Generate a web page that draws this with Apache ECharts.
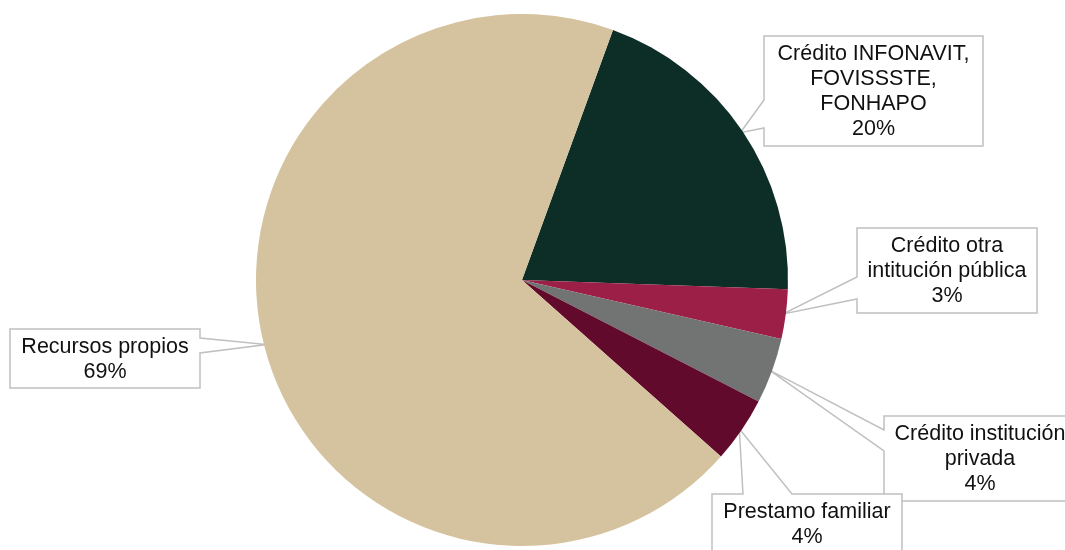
<!DOCTYPE html>
<html>
<head>
<meta charset="utf-8">
<script src="https://cdn.jsdelivr.net/npm/echarts@6/dist/echarts.min.js"></script>
<style>
  html, body { margin: 0; padding: 0; background: #ffffff; }
  #chart { width: 1065px; height: 550px; }
</style>
</head>
<body>
<div id="chart"></div>
<script>
// Fuente de financiamiento de la vivienda (porcentaje)
const categories = [
  'Crédito INFONAVIT,\nFOVISSSTE,\nFONHAPO',
  'Crédito otra\nintitución pública',
  'Crédito institución\nprivada',
  'Prestamo familiar',
  'Recursos propios'
];
const shares = [20, 3, 4, 4, 69];
const sliceColors = ['#0D2E27', '#9C1F47', '#727473', '#620A2C', '#D5C29E'];

// Callout boxes: [left, top, right, bottom], the side the pointer leaves from,
// and where the pointer's base meets that side.
const calloutBoxes = [
  { rect: [764, 36, 983, 146], side: 'left',  base: [100, 128] },
  { rect: [857, 228, 1037, 313], side: 'left',  base: [277, 299] },
  { rect: [884, 416, 1076, 501], side: 'left',  base: [430, 451] },
  { rect: [712, 494, 902, 553], side: 'top',   base: [743, 792] },
  { rect: [10, 329, 200, 388],  side: 'right', base: [338, 353] }
];

const chart = echarts.init(document.getElementById('chart'), null, { renderer: 'canvas' });

const pieData = categories.map((name, i) => ({
  name: name,
  value: shares[i],
  itemStyle: { color: sliceColors[i] }
}));

chart.setOption({
  animation: false,
  backgroundColor: '#ffffff',
  series: [{
    type: 'pie',
    center: [522, 280],
    radius: 266,
    startAngle: 70,
    clockwise: true,
    avoidLabelOverlap: false,
    data: pieData,
    itemStyle: { borderWidth: 0 },
    emphasis: { disabled: true },
    label: {
      show: true,
      position: 'outside',
      formatter: p => p.name + '\n' + Math.round(p.percent) + '%',
      fontFamily: '"Liberation Sans", Arial, sans-serif',
      fontSize: 21.5,
      lineHeight: 25,
      color: '#111111',
      align: 'center'
    },
    labelLine: { show: false },
    labelLayout: p => {
      const r = calloutBoxes[p.dataIndex].rect;
      return {
        x: (r[0] + r[2]) / 2,
        y: (r[1] + r[3]) / 2 + 1,
        align: 'center',
        verticalAlign: 'middle',
        hideOverlap: false
      };
    }
  }]
});

// Callout outlines: box plus a wedge pointing at each slice's outer edge.
function calloutPoints(box, tip) {
  const [x0, y0, x1, y1] = box.rect;
  const [b0, b1] = box.base;
  if (box.side === 'left') {
    return [[x0, y0], [x1, y0], [x1, y1], [x0, y1], [x0, b1], tip, [x0, b0]];
  }
  if (box.side === 'right') {
    return [[x0, y0], [x1, y0], [x1, b0], tip, [x1, b1], [x1, y1], [x0, y1]];
  }
  return [[x0, y0], [b0, y0], tip, [b1, y0], [x1, y0], [x1, y1], [x0, y1]];
}

const pieSeries = chart.getModel().getSeriesByIndex(0);
const sliceData = pieSeries.getData();
const callouts = calloutBoxes.map((box, i) => {
  const l = sliceData.getItemLayout(i);
  const mid = (l.startAngle + l.endAngle) / 2;
  const tip = [l.cx + Math.cos(mid) * l.r * 0.99, l.cy + Math.sin(mid) * l.r * 0.99];
  return {
    type: 'polygon',
    z: 0,
    silent: true,
    shape: { points: calloutPoints(box, tip) },
    style: { fill: '#ffffff', stroke: '#C0C0C0', lineWidth: 1.5 }
  };
});

chart.setOption({ graphic: { elements: callouts } });
</script>
</body>
</html>
